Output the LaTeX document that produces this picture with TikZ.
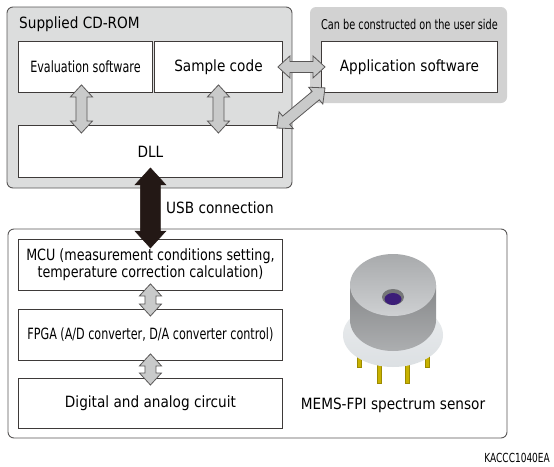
\documentclass[tikz,border=0pt]{standalone}
\usepackage{fontspec}
\setmainfont{DejaVu Sans}[FakeStretch=0.88]
\newfontfamily\narrowfont{DejaVu Sans}[FakeStretch=0.72]
\newfontfamily\midfont{DejaVu Sans}[FakeStretch=0.82]
\usepackage{tikz}
\usetikzlibrary{calc}
\definecolor{Ink}{HTML}{3E3A39}
\definecolor{Frame}{HTML}{595757}
\definecolor{Panel}{HTML}{DCDDDD}
\definecolor{UserPanel}{HTML}{D2D2D2}
\definecolor{Link}{HTML}{C9CACA}
\definecolor{Usb}{HTML}{231815}
\definecolor{CapTop}{HTML}{A8AAAC}
\definecolor{CapLow}{HTML}{CED0D2}
\definecolor{Flange}{HTML}{DCE0E3}
\definecolor{Pin}{HTML}{C8B200}
\definecolor{PinEdge}{HTML}{9C8A00}
\definecolor{Lens}{HTML}{3C1E78}
\newcommand{\lbl}{\fontsize{15.5pt}{17pt}\selectfont}
% fat double-headed arrow: style, from, to, half shaft, half head, head length
\newcommand{\fatarrow}[6]{%
  \draw[#1] let \p1=(#2), \p2=(#3),
      \n1={atan2(\y2-\y1,\x2-\x1)},
      \n2={veclen(\x2-\x1,\y2-\y1)-2*#6pt},
      \n3={atan2(#5,#6)}, \n4={veclen(#5pt,#6pt)}, \n5={#5pt-#4pt} in
    (\p1) -- ++({\n1+\n3}:\n4) -- ++({\n1-90}:\n5) -- ++({\n1}:\n2)
    -- ++({\n1+90}:\n5) -- (\p2) -- ++({\n1+180+\n3}:\n4)
    -- ++({\n1+90}:\n5) -- ++({\n1+180}:\n2) -- ++({\n1-90}:\n5) -- cycle;}
\tikzset{
  box/.style={draw=Ink,line width=.9pt,fill=white,anchor=north west,inner sep=0pt,font=\lbl,align=center},
  panel/.style={draw=Frame,line width=.9pt,rounded corners=6pt},
  title/.style={anchor=west,inner sep=0pt,font=\lbl},
  link/.style={draw=Frame,line width=.8pt,fill=Link,line join=miter},
  usb/.style={draw=Usb,fill=Usb,line width=.5pt},
  pin/.style={fill=Pin,draw=PinEdge,line width=.4pt}
}
\begin{document}
\begin{tikzpicture}[x=1pt,y=-1pt]
  \useasboundingbox (0,0) rectangle (554,466);
  % panels
  \draw[panel,fill=Panel] (7,7) rectangle (292,188);
  \fill[UserPanel,rounded corners=6pt] (310,7) rectangle (507,103);
  \draw[panel,fill=white] (8,229) rectangle (507,438);
  \node[title] (cdtitle) at (19,24) {Supplied CD-ROM};
  \node[title,font=\narrowfont\fontsize{13.5pt}{16pt}\selectfont] (usertitle) at (321,24) {Can be constructed on the user side};

  % software side
  \node[box,minimum width=134pt,minimum height=51pt] (eval) at (18,41) {\narrowfont Evaluation software};
  \node[box,minimum width=128pt,minimum height=51pt] (sample) at (154,41) {Sample code};
  \node[box,minimum width=264pt,minimum height=52pt] (dll) at (18,125) {DLL};
  \node[box,minimum width=176pt,minimum height=51pt] (app) at (321,41) {Application software};

  % hardware side
  \node[box,minimum width=264pt,minimum height=51pt] (mcu) at (18,239) {\midfont MCU (measurement conditions setting,\\\midfont temperature correction calculation)};
  \node[box,minimum width=264pt,minimum height=51pt] (fpga) at (18,309) {\narrowfont FPGA (A/D converter, D/A converter control)};
  \node[box,minimum width=264pt,minimum height=50pt] (circuit) at (18,378) {Digital and analog circuit};

  \fatarrow{link}{$(eval.south)+(-4,-8)$}{$(eval.south |- dll.north)+(-4,8)$}{5.5}{11}{12}
  \fatarrow{link}{$(sample.south)+(0,-8)$}{$(sample.south |- dll.north)+(0,8)$}{5.5}{11}{12}
  \fatarrow{link}{$(sample.east)+(-5,0)$}{$(app.west)+(4,0)$}{5.5}{11}{12}
  \fatarrow{link}{$(dll.north east)+(-6,3)$}{$(app.south west)+(4,-5)$}{5.5}{11}{12}
  \fatarrow{link}{$(mcu.south)+(0,-7)$}{$(fpga.north)+(0,7)$}{5.5}{11}{12}
  \fatarrow{link}{$(fpga.south)+(0,-7)$}{$(circuit.north)+(0,7)$}{5.5}{11}{12}
  \fatarrow{usb}{$(dll.south)+(0,-10)$}{$(mcu.north)+(0,9)$}{10}{15.5}{17}
  \node[title] (usbtext) at (166,208) {USB connection};

  % sensor
  \foreach \px/\len in {359/367,379/383,407/383,427/367}
    \draw[pin] (\px-2,340) rectangle (\px+2,\len);
  \shade[top color=Flange!60!white,bottom color=Flange] (393,335) ellipse [x radius=50pt,y radius=32pt];
  \shade[top color=CapTop!80!black,bottom color=CapTop!95!white]
    (350,285) -- (350,320) arc[start angle=180,end angle=360,x radius=43pt,y radius=31pt] -- (436,285) -- cycle;
  \shade[top color=CapTop,bottom color=CapLow] (393,285) ellipse [x radius=43pt,y radius=31pt];
  \fill[CapTop!70!black] (393,297) ellipse [x radius=11pt,y radius=8pt];
  \fill[Lens] (393,299) ellipse [x radius=8.5pt,y radius=6pt];
  \node[font=\lbl] (sensor) at (393,405) {MEMS-FPI spectrum sensor};

  \node[anchor=east,inner sep=0pt,font=\narrowfont\fontsize{12.5pt}{14pt}\selectfont] (figcode) at (550,458) {KACCC1040EA};
\end{tikzpicture}
\end{document}
